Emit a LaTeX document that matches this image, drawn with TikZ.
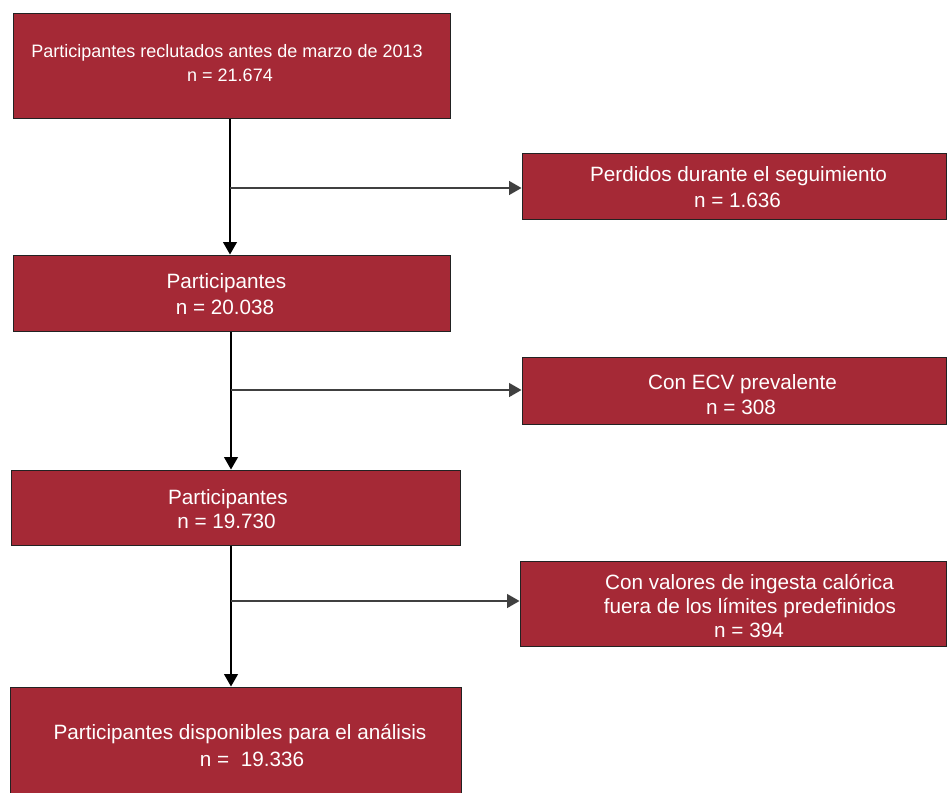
\documentclass[tikz,border=0pt]{standalone}
\usepackage{fontspec}
\setmainfont{Liberation Sans}
\usetikzlibrary{arrows.meta}
\definecolor{boxred}{HTML}{A52936}
\definecolor{edge}{HTML}{222222}
\tikzset{
  box/.style={draw=edge, line width=1pt, fill=boxred, rectangle, inner sep=0pt},
  txt/.style={text=white, font=\fontsize{20.7}{25}\selectfont, anchor=base, inner sep=0pt},
  txtsmall/.style={text=white, font=\fontsize{18}{24}\selectfont, anchor=base, inner sep=0pt},
  arr/.style={draw=black, line width=1.1pt, -{Triangle[length=12.5pt,width=14pt]}},
  branch/.style={draw=black!75, line width=1.4pt, -{Triangle[length=12.5pt,width=14pt]}}
}
\begin{document}
\begin{tikzpicture}[x=1pt,y=-1pt]
\useasboundingbox (0,0) rectangle (947,792);
% boxes
\node[box, minimum width=437pt, minimum height=104pt] (b1) at (231.5,66) {};
\node[box, minimum width=424pt, minimum height=66pt] (b2) at (734,186) {};
\node[box, minimum width=437pt, minimum height=76pt] (b3) at (231.5,293) {};
\node[box, minimum width=424pt, minimum height=67pt] (b4) at (734,390.5) {};
\node[box, minimum width=449pt, minimum height=75pt] (b5) at (235.5,507.5) {};
\node[box, minimum width=426pt, minimum height=85pt] (b6) at (733,603.5) {};
\node[box, minimum width=451pt, minimum height=120pt] (b7) at (235.5,747) {};
% texts
\node[txtsmall] (t1a) at (227,57) {Participantes reclutados antes de marzo de 2013};
\node[txtsmall] (t1b) at (230,81.5) {n = 21.674};
\node[txt] (t2a) at (738.5,181) {Perdidos durante el seguimiento};
\node[txt] (t2b) at (737.5,207) {n = 1.636};
\node[txt] (t3a) at (226.5,288) {Participantes};
\node[txt] (t3b) at (225,314) {n = 20.038};
\node[txt] (t4a) at (742.5,389) {Con ECV prevalente};
\node[txt] (t4b) at (741,414) {n = 308};
\node[txt] (t5a) at (228,504) {Participantes};
\node[txt] (t5b) at (226.5,528) {n = 19.730};
\node[txt] (t6a) at (749.5,589) {Con valores de ingesta calórica};
\node[txt] (t6b) at (750,613) {fuera de los límites predefinidos};
\node[txt] (t6c) at (749,637.5) {n = 394};
\node[txt] (t7a) at (240,739) {Participantes disponibles para el análisis};
\node[txt] (t7b) at (252,766.5) {n =\ \ 19.336};
% junctions
\coordinate (j1) at (230,188);
\coordinate (j2) at (231,390);
\coordinate (j3) at (231,601);
% connectors
\draw[arr] (b1.south -| j1) -- (b3.north -| j1);
\draw[branch] (j1) -- (b2.west |- j1);
\draw[arr] (b3.south -| j2) -- (b5.north -| j2);
\draw[branch] (j2) -- (b4.west |- j2);
\draw[arr] (b5.south -| j3) -- (b7.north -| j3);
\draw[branch] (j3) -- (b6.west |- j3);
\end{tikzpicture}
\end{document}
